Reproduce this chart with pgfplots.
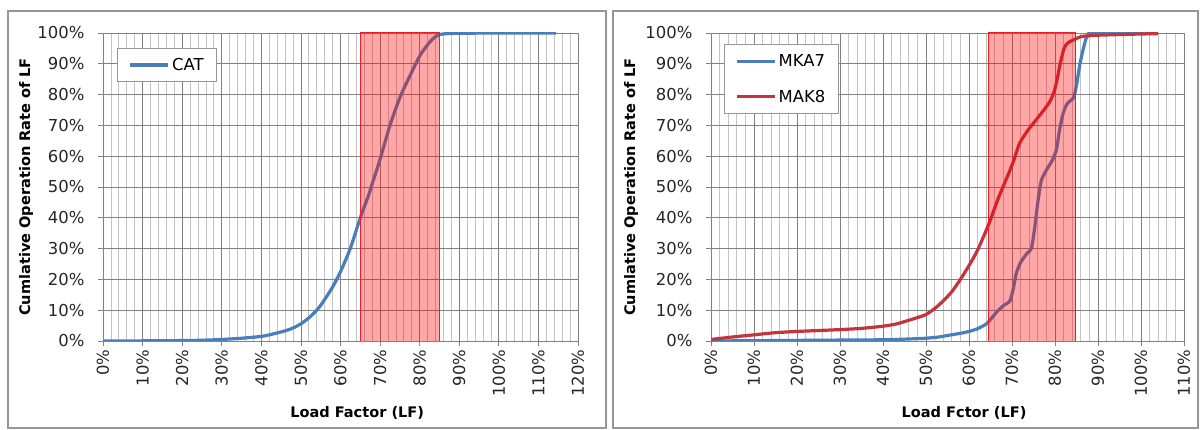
\documentclass[border=0pt]{standalone}
\usepackage{fontspec}
\setmainfont{DejaVu Sans}
\usepackage{pgfplots}
\pgfplotsset{compat=1.18}
\definecolor{lineblue}{RGB}{74,126,187}
\definecolor{linered}{RGB}{196,52,60}
\definecolor{boxred}{RGB}{235,30,40}
\definecolor{majgrid}{RGB}{130,130,130}
\definecolor{mingrid}{RGB}{195,195,195}
\definecolor{panelgray}{RGB}{150,150,150}
\newcommand\tickfont{\fontsize{16.5}{19}\selectfont}
\newcommand\labfont{\fontsize{14.6}{17}\selectfont\bfseries}
\pgfplotsset{
  chartstyle/.style={
    scale only axis,
    height=308bp,
    ymin=0, ymax=100,
    ytick={0,10,...,100},
    yticklabels={0\%,10\%,20\%,30\%,40\%,50\%,60\%,70\%,80\%,90\%,100\%},
    minor x tick num=4,
    xmajorgrids, xminorgrids, ymajorgrids,
    major grid style={majgrid, line width=0.8bp},
    minor grid style={mingrid, line width=0.8bp},
    axis lines*=left,
    axis line style={majgrid, line width=0.9bp},
    tick align=outside,
    major tick length=5bp,
    minor tick length=0pt,
    tick style={majgrid, line width=0.8bp},
    ticklabel style={font=\tickfont, text=black!85},
    xticklabel style={rotate=90, anchor=east},
    yticklabel style={anchor=east, xshift=-10bp},
    xlabel style={font=\labfont, at={(axis description cs:0.535,-0.232)}, anchor=center},
    ylabel style={font=\labfont, anchor=center},
    legend cell align=left,
    legend style={draw=panelgray, line width=0.8bp, font=\tickfont, fill=white,
      anchor=north west, inner xsep=11bp, inner ysep=8bp, row sep=18bp},
    legend image code/.code={\draw[#1, line width=3.2bp] (0bp,0bp) -- (38bp,0bp);},
  }
}
\begin{document}
\begin{tikzpicture}
\fill[white] (0bp,0bp) rectangle (1202bp,430bp);
\draw[panelgray, line width=1.5bp] (8bp,2bp) rectangle (606bp,419bp);
\draw[panelgray, line width=1.5bp] (613bp,2bp) rectangle (1198bp,419bp);

% Left panel
\begin{axis}[chartstyle,
  at={(103bp,89bp)}, anchor=south west,
  width=475bp,
  xmin=0, xmax=120,
  xtick={0,10,...,120},
  xticklabels={0\%,10\%,20\%,30\%,40\%,50\%,60\%,70\%,80\%,90\%,100\%,110\%,120\%},
  xlabel={Load Factor (LF)},
  ylabel={Cumlative Operation Rate of LF},
  ylabel style={at={(axis description cs:-0.162,0.5)}},
  legend style={at={(axis description cs:0.0305,0.952)}},
]
\addplot[lineblue, line width=3.2bp, smooth] coordinates {
(0,0) (10,0.05) (20,0.15) (25,0.25) (30,0.5) (35,0.9) (40,1.5) (43,2.3) (46,3.3) (48,4.2) (50,5.6) (52,7.5) (54,10) (55,11.6) (56,13.5) (58,17.5) (60,22.5) (62,28.5) (63,32) (65,40) (67,47) (68,51) (70,59) (72.5,70) (75,79) (77.5,86) (80,92.5) (82.5,97) (84,98.8) (85,99.5) (87,99.8) (90,99.9) (100,100) (114.5,100)
};
\addlegendentry{CAT}
\addplot[draw=boxred, line width=1bp, fill=red, fill opacity=0.35, forget plot] coordinates {(65,0) (85,0) (85,100) (65,100)} -- cycle;
\end{axis}

% Right panel
\begin{axis}[chartstyle,
  at={(711bp,89bp)}, anchor=south west,
  width=473bp,
  xmin=0, xmax=110,
  xtick={0,10,...,110},
  xticklabels={0\%,10\%,20\%,30\%,40\%,50\%,60\%,70\%,80\%,90\%,100\%,110\%},
  xlabel={Load Fctor (LF)},
  ylabel={Cumlative Operation Rate of LF},
  ylabel style={at={(axis description cs:-0.169,0.5)}},
  legend style={at={(axis description cs:0.0275,0.964)}},
]
\addplot[lineblue, line width=3.2bp, smooth, tension=0.4] coordinates {
(0,0) (10,0.1) (20,0.2) (30,0.3) (40,0.4) (45,0.6) (50,0.9) (53,1.3) (55,1.8) (58,2.5) (60,3.1) (62,4) (64,5.5) (65,7) (66.5,9.5) (68,11.5) (69.5,13) (70.3,17) (71,22) (72,25.5) (73.5,28.5) (74.5,30) (75.3,37) (76,45) (76.8,52) (78,55.5) (79.3,58.5) (80.3,62) (81,68) (81.8,73.5) (82.8,77) (84.3,79) (85,83) (85.8,90) (86.6,95) (87.3,98.5) (88,99.6) (89,100) (104,100)
};
\addlegendentry{MKA7}
\addplot[linered, line width=3.2bp, smooth, tension=0.4] coordinates {
(0,0.5) (5,1.3) (10,2) (15,2.7) (20,3.1) (30,3.7) (35,4.1) (40,4.8) (43,5.5) (45,6.3) (48,7.6) (50,8.6) (52,10.5) (54,13) (56,16) (58,20) (60,24.5) (62,29.5) (64.6,38) (67,47) (69.4,55) (70.5,59) (71.7,64) (73,67) (74,69) (76.3,73) (78.7,77.5) (79.8,81) (80.5,85) (81.2,90) (82.1,95) (83,96.8) (84.7,98) (86,98.8) (88.6,99.2) (95,99.5) (104,99.8)
};
\addlegendentry{MAK8}
\addplot[draw=boxred, line width=1bp, fill=red, fill opacity=0.35, forget plot] coordinates {(64.6,0) (84.7,0) (84.7,100) (64.6,100)} -- cycle;
\end{axis}
\end{tikzpicture}
\end{document}
